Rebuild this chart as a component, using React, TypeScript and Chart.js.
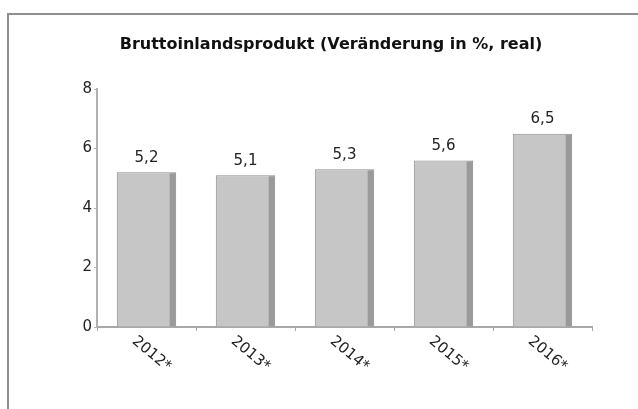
import React, { useEffect, useRef } from "react";
import { Chart, registerables } from "chart.js";

Chart.register(...registerables);

const title = "Bruttoinlandsprodukt (Veränderung in %, real)";
const categories = ["2012*", "2013*", "2014*", "2015*", "2016*"];
const values = [5.2, 5.1, 5.3, 5.6, 6.5];
const valueLabels = ["5,2", "5,1", "5,3", "5,6", "6,5"];
const yTicks = [0, 2, 4, 6, 8];

const decorPlugin = {
  id: "decor",
  beforeDraw(chart: any) {
    const ctx = chart.ctx;
    ctx.save();
    ctx.strokeStyle = "#8e8e8e";
    ctx.lineWidth = 2;
    ctx.beginPath();
    ctx.moveTo(8, 409);
    ctx.lineTo(8, 14);
    ctx.lineTo(638, 14);
    ctx.stroke();
    ctx.fillStyle = "#111";
    ctx.font = "bold 16px 'DejaVu Sans'";
    ctx.textAlign = "center";
    ctx.textBaseline = "middle";
    ctx.fillText(title, 331, 45);
    ctx.restore();
  },
  afterDatasetsDraw(chart: any) {
    const ctx = chart.ctx;
    const meta = chart.getDatasetMeta(0);
    const xScale = chart.scales.x;
    ctx.save();
    meta.data.forEach((bar: any, i: number) => {
      const w = bar.width;
      const right = bar.x + w / 2;
      const top = bar.y;
      const base = bar.base;
      ctx.fillStyle = "#9a9a9a";
      ctx.fillRect(right - 6.5, top + 1, 6, base - top - 1);
      ctx.fillStyle = "#222";
      ctx.font = "15px 'DejaVu Sans'";
      ctx.textAlign = "center";
      ctx.textBaseline = "bottom";
      ctx.fillText(valueLabels[i], bar.x, top - 7);
    });
    categories.forEach((c, i) => {
      const x = xScale.getPixelForValue(i);
      ctx.save();
      ctx.translate(x + 5, xScale.top + 27);
      ctx.rotate((40 * Math.PI) / 180);
      ctx.fillStyle = "#222";
      ctx.font = "15px 'DejaVu Sans'";
      ctx.textAlign = "center";
      ctx.textBaseline = "middle";
      ctx.fillText(c, 0, 0);
      ctx.restore();
    });
    ctx.restore();
  },
};

export default function App() {
  const ref = useRef<HTMLCanvasElement | null>(null);
  useEffect(() => {
    document.body.style.margin = "0";
    const chart = new Chart(ref.current as HTMLCanvasElement, {
      type: "bar",
      data: {
        labels: categories,
        datasets: [
          {
            data: values,
            backgroundColor: "#c6c6c6",
            borderColor: "#8c8c8c",
            borderWidth: 1,
            barPercentage: 0.6,
            categoryPercentage: 1,
          },
        ],
      },
      options: {
        animation: false,
        responsive: false,
        maintainAspectRatio: false,
        layout: { padding: { top: 89, right: 46, left: 0, bottom: 0 } },
        plugins: {
          legend: { display: false },
          tooltip: { enabled: false },
          title: { display: false },
        },
        scales: {
          x: {
            grid: {
              display: true,
              drawOnChartArea: false,
              drawTicks: true,
              tickLength: 4,
              color: "#a8a8a8",
              offset: true,
            },
            border: { display: true, color: "#a8a8a8", width: 2 },
            ticks: { display: false },
            afterFit(scale: any) {
              scale.height = 82;
            },
          },
          y: {
            min: 0,
            max: 8,
            afterBuildTicks(scale: any) {
              scale.ticks = yTicks.map((v) => ({ value: v }));
            },
            grid: {
              display: true,
              drawOnChartArea: false,
              drawTicks: true,
              tickLength: 3,
              color: "#b0b0b0",
            },
            border: { display: true, color: "#b0b0b0", width: 2 },
            ticks: {
              color: "#222",
              padding: 2,
              font: { family: "'DejaVu Sans'", size: 15 },
            },
            afterFit(scale: any) {
              scale.width = 97;
            },
          },
        },
      },
      plugins: [decorPlugin],
    } as any);
    return () => chart.destroy();
  }, []);
  return <canvas ref={ref} width={638} height={409} style={{ display: "block" }} />;
}
